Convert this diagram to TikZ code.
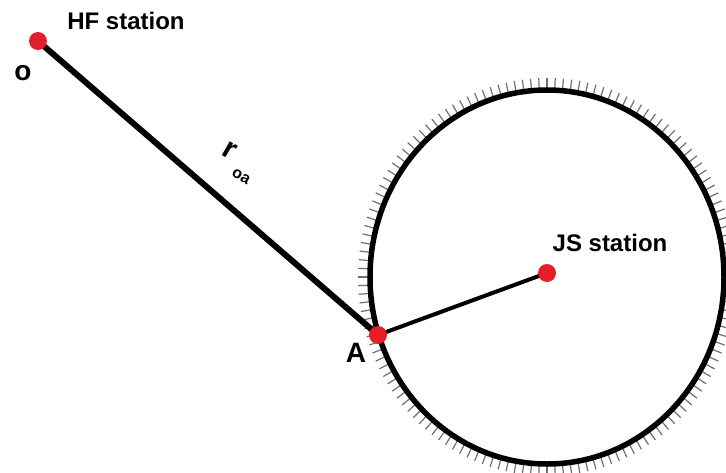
\documentclass[tikz,border=0pt]{standalone}
\usepackage{fontspec}
\setmainfont{Liberation Sans}
\definecolor{dotred}{HTML}{E3202A}
\definecolor{tickgray}{HTML}{707070}
\begin{document}
\begin{tikzpicture}[x=1pt,y=-1pt,
  dot/.style={circle,fill=dotred,inner sep=0pt,minimum size=18pt},
  lbl/.style={font=\bfseries\fontsize{24}{26}\selectfont,inner sep=0pt},
  biglbl/.style={font=\bfseries\fontsize{28}{30}\selectfont,inner sep=0pt}]
\useasboundingbox (0,0) rectangle (726,472);
% ticks around the circle
\foreach \t in {0,2.5,...,357.5}{
  \draw[tickgray,line width=1.2pt] ({547+179*cos(\t)},{277+189*sin(\t)}) -- ({547+189*cos(\t)},{277+199*sin(\t)});
}
\draw[line width=5.5pt] (547,277) ellipse [x radius=177, y radius=187];
\coordinate (Ap) at (378,335);
\coordinate (Op) at (38,41);
\coordinate (Jp) at (547,273);
\draw[line width=6pt] (Op) -- (Ap);
\draw[line width=4pt] (Ap) -- (Jp);
\node[dot] (O) at (Op) {};
\node[dot] (A) at (Ap) {};
\node[dot] (J) at (Jp) {};
\node[lbl] (hf) at (126,21) {HF station};
\node[lbl] (js) at (610,243) {JS station};
\node[biglbl] (o) at (23,73) {o};
\node[biglbl] (al) at (356,353) {A};
\node[inner sep=0pt,rotate=-30,font=\bfseries\fontsize{30}{32}\selectfont] (r) at (230,150) {r};
\node[inner sep=0pt,rotate=-30,font=\bfseries\fontsize{16}{18}\selectfont] (oa) at (241,177) {oa};
\end{tikzpicture}
\end{document}
